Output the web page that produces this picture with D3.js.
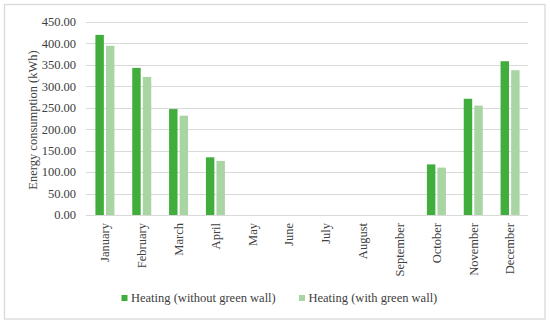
<!DOCTYPE html>
<html>
<head>
<meta charset="utf-8">
<script src="https://cdn.jsdelivr.net/npm/d3@7"></script>
<style>
  body { margin: 0; background: #fff; }
  text { font-family: "Liberation Serif", "Times New Roman", serif; fill: #404040; }
</style>
</head>
<body>
<svg id="chart" width="550" height="325"></svg>
<script>
const months = ["January", "February", "March", "April", "May", "June", "July",
  "August", "September", "October", "November", "December"];
const seriesNames = ["Heating (without green wall)", "Heating (with green wall)"];
const withoutWall = [420, 343, 247, 134.5, 0, 0, 0, 0, 0, 118, 271, 358.5];
const withWall = [394.5, 322, 231.5, 126, 0, 0, 0, 0, 0, 110.5, 255, 337.5];
const yTicks = [0, 50, 100, 150, 200, 250, 300, 350, 400, 450];
const colors = ["#41ad3c", "#a9d4a4"];

const svg = d3.select("#chart");

// outer frame
svg.append("rect")
  .attr("x", 4.5).attr("y", 4.5)
  .attr("width", 540.5).attr("height", 314.5)
  .attr("fill", "none")
  .attr("stroke", "#d9d9d9")
  .attr("stroke-width", 1.3);

const y = d3.scaleLinear().domain([0, 450]).range([215, 22]);
const x0 = d3.scaleBand().domain(months).range([86, 528]);
const x1 = d3.scaleBand().domain([0, 1]).range([0, 19]).paddingInner(0.2);

// gridlines
svg.append("g")
  .selectAll("line")
  .data(yTicks)
  .join("line")
    .attr("x1", 86).attr("x2", 528)
    .attr("y1", d => Math.round(y(d)) + 0.5)
    .attr("y2", d => Math.round(y(d)) + 0.5)
    .attr("stroke", "#d9d9d9")
    .attr("stroke-width", 1);

// y tick labels
svg.append("g")
  .selectAll("text")
  .data(yTicks)
  .join("text")
    .attr("x", 76)
    .attr("y", d => y(d))
    .attr("dy", "0.35em")
    .attr("text-anchor", "end")
    .attr("font-size", 12.5)
    .text(d => d.toFixed(2));

// bars
const rows = months.map((m, i) => ({ month: m, values: [withoutWall[i], withWall[i]] }));
svg.append("g")
  .selectAll("g")
  .data(rows)
  .join("g")
    .attr("transform", d => `translate(${x0(d.month) + (x0.bandwidth() - 19) / 2 + 0.5},0)`)
  .selectAll("rect")
  .data(d => d.values.map((v, k) => ({ k, v })))
  .join("rect")
    .attr("x", d => x1(d.k))
    .attr("width", x1.bandwidth())
    .attr("y", d => y(d.v))
    .attr("height", d => y(0) - y(d.v))
    .attr("fill", d => colors[d.k]);

// month labels
svg.append("g")
  .selectAll("text")
  .data(months)
  .join("text")
    .attr("transform", d => `translate(${x0(d) + x0.bandwidth() / 2 + 0.5},223) rotate(-90)`)
    .attr("dy", "0.35em")
    .attr("text-anchor", "end")
    .attr("font-size", 12.5)
    .text(d => d);

// y axis title
svg.append("text")
  .attr("transform", "translate(33,120) rotate(-90)")
  .attr("dy", "0.35em")
  .attr("text-anchor", "middle")
  .attr("font-size", 12.5)
  .text("Energy consumption (kWh)");

// legend
const legendX = [121.5, 299];
const legend = svg.append("g")
  .selectAll("g")
  .data(seriesNames)
  .join("g")
    .attr("transform", (d, i) => `translate(${legendX[i]},298)`);
legend.append("rect")
  .attr("x", 0).attr("y", -3)
  .attr("width", 6).attr("height", 6)
  .attr("fill", (d, i) => colors[i]);
legend.append("text")
  .attr("x", 9.5)
  .attr("dy", "0.35em")
  .attr("font-size", 12.5)
  .text(d => d);
</script>
</body>
</html>
